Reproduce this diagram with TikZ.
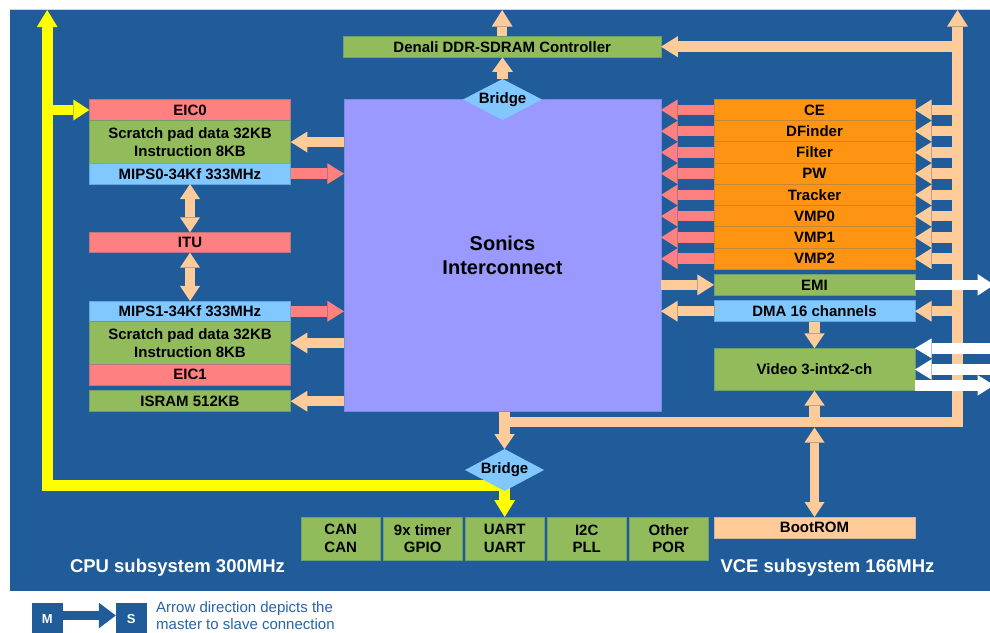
\documentclass[tikz,border=0pt]{standalone}
\usepackage{fontspec}
\setmainfont{Liberation Sans}
\usetikzlibrary{arrows.meta,shapes.geometric,calc}
\definecolor{panel}{RGB}{31,92,153}
\definecolor{salmon}{RGB}{255,128,128}
\definecolor{grn}{RGB}{146,187,92}
\definecolor{lblue}{RGB}{128,200,255}
\definecolor{peach}{RGB}{255,204,153}
\definecolor{orng}{RGB}{255,148,18}
\definecolor{purp}{RGB}{153,153,255}
\definecolor{yel}{RGB}{255,255,0}
\definecolor{shade}{RGB}{192,192,192}
\definecolor{legtext}{RGB}{38,100,168}
\tikzset{
  lbl/.style={font=\fontsize{15}{17.4}\selectfont\bfseries, text=black},
  box/.style={rectangle, inner sep=0pt, outer sep=0pt, line width=0.7pt, lbl, align=center},
  redbox/.style={box, fill=salmon, draw=salmon!70!panel},
  grnbox/.style={box, fill=grn, draw=grn!70!panel},
  bluebox/.style={box, fill=lblue, draw=lblue!70!panel},
  orgbox/.style={box, fill=orng, draw=orng!75!panel, minimum width=201pt, minimum height=21.25pt},
  peachbox/.style={box, fill=peach, draw=peach!80!panel},
  leftcol/.style={minimum width=201.4pt},
  rightcol/.style={minimum width=201pt},
  botbox/.style={grnbox, minimum width=79.5pt, minimum height=43pt},
  bridgenode/.style={diamond, aspect=1.9, fill=lblue, inner sep=0pt, outer sep=0pt, minimum width=79pt, minimum height=41pt, lbl},
  barrow/.style={line width=10.5pt},
  pk/.style={barrow, draw=peach},
  rd/.style={barrow, draw=salmon},
  wt/.style={barrow, draw=white},
  yl/.style={line width=11pt, draw=yel},
  tipa/.style={-{Triangle[length=16.7pt,width=21pt,line width=0pt]}},
  tipv/.style={-{Triangle[length=15pt,width=20.5pt,line width=0pt]}},
  dbl/.style={{Triangle[length=15pt,width=20pt,line width=0pt]}-{Triangle[length=15pt,width=20pt,line width=0pt]}},
  title/.style={anchor=base west, text=white, font=\fontsize{18.5}{22}\selectfont\bfseries},
  legbox/.style={rectangle, fill=panel, inner sep=0pt, outer sep=0pt, minimum width=31pt, minimum height=33pt, text=white, font=\fontsize{13}{15}\selectfont\bfseries}
}
\begin{document}
\begin{tikzpicture}[x=1pt,y=-1pt]
\useasboundingbox (0,0) rectangle (990,632);
% background panel
\fill[shade] (15,16) rectangle (997,597);
\fill[panel] (10,10) rectangle (995,591);
\draw[shade!70, line width=1pt] (10,9.5) -- (990,9.5);

% left column
\node[redbox, leftcol, minimum height=21.4pt] (eic0) at (190,110) {EIC0};
\node[grnbox, leftcol, minimum height=42.6pt] (sp0) at (190,142) {Scratch pad data 32KB\\Instruction 8KB};
\node[bluebox, leftcol, minimum height=20.8pt] (mips0) at (190,173.7) {MIPS0-34Kf 333MHz};
\node[redbox, leftcol, minimum height=20.4pt] (itu) at (190,242.5) {ITU};
\node[bluebox, leftcol, minimum height=20.7pt] (mips1) at (190,311.3) {MIPS1-34Kf 333MHz};
\node[grnbox, leftcol, minimum height=42.6pt] (sp1) at (190,343) {Scratch pad data 32KB\\Instruction 8KB};
\node[redbox, leftcol, minimum height=20.7pt] (eic1) at (190,374.7) {EIC1};
\node[grnbox, leftcol, minimum height=21pt] (isram) at (190,401.2) {ISRAM 512KB};

% centre
\node[box, fill=purp, draw=purp!75!panel, minimum width=317pt, minimum height=312.4pt,
      font=\fontsize{20}{24}\selectfont\bfseries] (sonics) at (502.5,255.5) {Sonics\\Interconnect};
\node[grnbox, minimum width=317.7pt, minimum height=21.3pt] (denali) at (502.2,46.7) {Denali DDR-SDRAM Controller};

% right column
\foreach \lab [count=\i] in {CE,DFinder,Filter,PW,Tracker,VMP0,VMP1,VMP2}{
  \node[orgbox] (r\i) at (814.5,{99.3+21.25*(\i-0.5)}) {\lab};
}
\node[grnbox, rightcol, minimum height=21.7pt] (emi) at (814.5,284.85) {EMI};
\node[bluebox, rightcol, minimum height=21pt] (dma) at (814.5,311.2) {DMA 16 channels};
\node[grnbox, rightcol, minimum height=42.4pt] (video) at (814.5,369.5) {Video 3-intx2-ch};
\node[peachbox, rightcol, minimum height=21pt] (bootrom) at (814.5,527.5) {BootROM};

% bottom peripherals
\node[botbox] (can) at (340.7,538.5) {CAN\\CAN};
\node[botbox] (timer) at (422.7,538.5) {9x timer\\GPIO};
\node[botbox] (uart) at (504.7,538.5) {UART\\UART};
\node[botbox] (i2c) at (586.7,538.5) {I2C\\PLL};
\node[botbox] (other) at (668.7,538.5) {Other\\POR};

% yellow interrupt bus
\coordinate (ytop) at (47.2,10);
\coordinate (ybend) at (47.2,485.4);
\draw[yl, {Triangle[length=17pt,width=20.7pt,line width=0pt]}-{Triangle[length=17pt,width=21pt,line width=0pt]}]
  (ytop) -- (ybend) -| (uart.north);
\draw[yl, line width=10.3pt, -{Triangle[length=16pt,width=21pt,line width=0pt]}] (ytop |- eic0.west) -- (eic0.west);

% bridges
\node[bridgenode] (bridge1) at (502.5,99.5) {Bridge};
\node[bridgenode, minimum height=42pt] (bridge2) at (504.5,470) {Bridge};

% top connections
\coordinate (dtop) at (502.5,10);
\draw[pk, tipa] (denali.north) -- (denali.north |- dtop);
\draw[pk, -{Triangle[length=14.4pt,width=20.7pt,line width=0pt]}] (bridge1.north) -- (denali.south -| bridge1.north);

% peach VCE bus
\coordinate (busL) at (504.3,422);
\coordinate (busTop) at (957.5,10);
\draw[pk, tipa] (busL) -| (busTop);
\draw[pk, line width=11.3pt, tipa] (busTop |- denali.east) -- (denali.east);
\foreach \n in {r1,r2,r3,r4,r5,r6,r7,r8,dma}{
  \draw[pk, tipa] (busTop |- \n.east) -- (\n.east);
}
\foreach \n in {r1,r2,r3,r4,r5,r6,r7,r8}{
  \draw[rd, tipa] (\n.west) -- (sonics.east |- \n.west);
}
\draw[pk, tipa] (sonics.east |- emi.west) -- (emi.west);
\draw[pk, tipa] (dma.west) -- (sonics.east |- dma.west);
\draw[pk, tipv] (dma.south) -- (video.north);
\draw[pk, tipv] (busL -| video.south) -- (video.south);
\draw[pk, line width=9.5pt, dbl] ($(busL -| bootrom.north)+(0,5.6)$) -- (bootrom.north);
\draw[pk, line width=11.3pt, tipv] (sonics.south -| bridge2.north) -- (bridge2.north);

% left connections
\draw[pk, tipa] (sonics.west |- sp0.east) -- (sp0.east);
\draw[rd, tipa] (mips0.east) -- (sonics.west |- mips0.east);
\draw[rd, tipa] (mips1.east) -- (sonics.west |- mips1.east);
\draw[pk, tipa] (sonics.west |- sp1.east) -- (sp1.east);
\draw[pk, tipa] (sonics.west |- isram.east) -- (isram.east);
\draw[pk, line width=10pt, dbl] (mips0.south) -- (itu.north);
\draw[pk, line width=10pt, dbl] (itu.south) -- (mips1.north);

% external (white) connections
\coordinate (wR) at (994,0);
\coordinate (v3) at ([yshift=-15.8pt]video.east);
\draw[wt, -{Triangle[length=16.5pt,width=21.7pt,line width=0pt]}] (emi.east) -- (emi.east -| wR);
\draw[wt, -{Triangle[length=16.7pt,width=20pt,line width=0pt]}] (wR |- video.north east) -- (video.north east);
\draw[wt, -{Triangle[length=16.7pt,width=20.7pt,line width=0pt]}] (wR |- video.east) -- (video.east);
\draw[wt, -{Triangle[length=16.5pt,width=20.7pt,line width=0pt]}] (v3) -- (v3 -| wR);

% subsystem titles
\node[title] (cpu) at (66.5,572.7) {CPU subsystem 300MHz};
\node[title] (vce) at (717,572.5) {VCE subsystem 166MHz};

% legend
\node[legbox] (M) at (47.2,619) {M};
\node[legbox] (S) at (131.3,619) {S};
\draw[draw=panel, line width=8.3pt, -{Triangle[length=17pt,width=25.6pt,line width=0pt]}] ([yshift=3.5pt]M.east) -- ([yshift=3.5pt]S.west);
\node[anchor=west, align=left, text=legtext, inner sep=0pt, font=\fontsize{15}{17}\selectfont] (leg) at (156,615.5) {Arrow direction depicts the\\master to slave connection};
\end{tikzpicture}
\end{document}
